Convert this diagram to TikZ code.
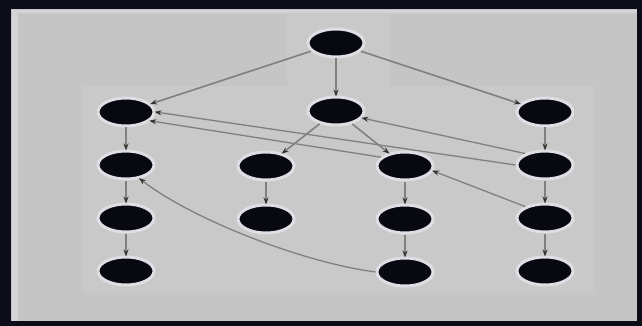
\documentclass[tikz,border=0pt]{standalone}
\usetikzlibrary{arrows.meta,positioning,shapes.geometric,backgrounds}
\definecolor{framedark}{RGB}{13,13,26}
\definecolor{panelgray}{RGB}{197,197,197}
\definecolor{panellight}{RGB}{201,201,201}
\definecolor{panelrim}{RGB}{212,212,216}
\definecolor{nodeblack}{RGB}{8,8,16}
\definecolor{halowhite}{RGB}{222,222,228}
\definecolor{edgegray}{RGB}{128,128,128}
\definecolor{tipdark}{RGB}{50,50,50}
\tikzset{
  task/.style={ellipse, fill=nodeblack, draw=halowhite, line width=3pt,
    minimum width=56pt, minimum height=28pt, inner sep=0pt},
  dep/.style={-{Stealth[length=7pt,width=5pt,color=tipdark]}, draw=edgegray,
    line width=1.6pt, shorten >=-1pt},
  backdep/.style={dep, line width=1.3pt}
}

\begin{document}
\begin{tikzpicture}[x=1pt,y=-1pt,node distance=22pt]

  % --- top ---
  \node[task] (root) at (336,43) {};

  % --- second row ---
  \node[task] (left) at (126,112) {};
  \node[task] (mid) at (336,111) {};
  \node[task] (right) at (545,112) {};

  % --- inner branches ---
  \node[task] (midl) at (266,166) {};
  \node[task] (midr) at (405,166) {};
  \node[task, below=of midl] (midl2) {};
  \node[task, below=of midr] (midr2) {};
  \node[task, below=of midr2] (midr3) {};

  % --- outer columns ---
  \node[task, below=of left] (left2) {};
  \node[task, below=of left2] (left3) {};
  \node[task, below=of left3] (left4) {};
  \node[task, below=of right] (right2) {};
  \node[task, below=of right2] (right3) {};
  \node[task, below=of right3] (right4) {};

  % ---------------- edges ----------------
  \draw[dep] (root) -- (left);
  \draw[dep] (root) -- (mid);
  \draw[dep] (root) -- (right);

  \draw[dep] (mid) -- (midl);
  \draw[dep] (mid) -- (midr);
  \draw[dep] (midl) -- (midl2);
  \draw[dep] (midr) -- (midr2);
  \draw[dep] (midr2) -- (midr3);

  \draw[dep] (left) -- (left2);
  \draw[dep] (left2) -- (left3);
  \draw[dep] (left3) -- (left4);
  \draw[dep] (right) -- (right2);
  \draw[dep] (right2) -- (right3);
  \draw[dep] (right3) -- (right4);

  % back edges pointing up-left
  \draw[backdep] (right2.west) -- (left.east);
  \draw[backdep] (midr.160) -- (left.-20);
  \draw[backdep] (right2.150) -- (mid.-15);
  \draw[backdep] (right3.150) -- (midr.-10);
  \draw[backdep] (midr3.west) .. controls (300,262) and (190,218) .. (left2.-45);

  % frame
  \begin{scope}[on background layer]
    \fill[framedark] (0,0) rectangle (642,326);
    \fill[panelgray] (11,9) rectangle (637,321);
    \fill[panelrim] (12,10) rectangle (18,321);
    \fill[panelrim] (12,10) rectangle (637,13);
    \fill[panellight] (82,86) rectangle (594,292);
    \fill[panellight] (287,14) rectangle (390,86);
  \end{scope}

\end{tikzpicture}
\end{document}
